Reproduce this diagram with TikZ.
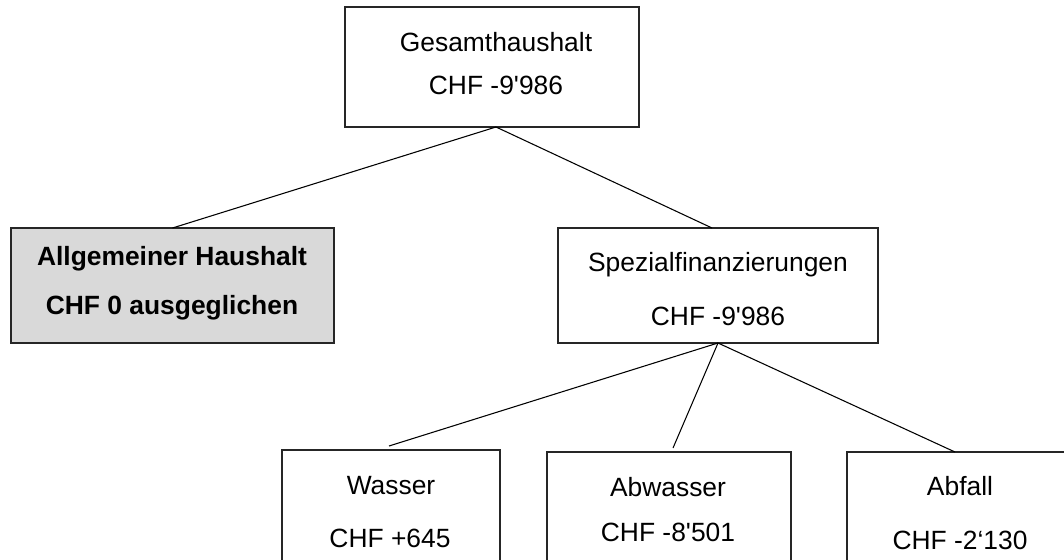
\documentclass[tikz,border=0pt]{standalone}
\usepackage{fontspec}
\setmainfont{Liberation Sans}
\begin{document}
\begin{tikzpicture}[x=0.75pt,y=-0.75pt,
  box/.style={draw=black!85, line width=1pt, inner sep=0pt, outer sep=0pt, anchor=north west},
  lbl/.style={anchor=base, inner sep=0pt, font=\fontsize{19.8}{24}\selectfont},
  blbl/.style={lbl, font=\fontsize{19.8}{24}\selectfont\bfseries},
  conn/.style={draw=black, line width=0.8pt}]
\useasboundingbox (0,0) rectangle (1064,560);
\clip (0,0) rectangle (1064,560);
% boxes
\node[box, minimum width=294*0.75pt, minimum height=120*0.75pt] (top) at (345,7) {};
\node[box, fill=black!15, minimum width=323*0.75pt, minimum height=115*0.75pt] (allg) at (11,228) {};
\node[box, minimum width=320*0.75pt, minimum height=115*0.75pt] (spez) at (558,228) {};
\node[box, minimum width=218*0.75pt, minimum height=160*0.75pt] (wasser) at (282,450) {};
\node[box, minimum width=244*0.75pt, minimum height=160*0.75pt] (abwasser) at (547,452) {};
\node[box, minimum width=220*0.75pt, minimum height=160*0.75pt] (abfall) at (847,452) {};
% labels
\node[lbl] (topA) at (496,52) {Gesamthaushalt};
\node[lbl] (topB) at (496,94) {CHF -9\textquotesingle 986};
\node[blbl] (allgA) at (172,265) {Allgemeiner Haushalt};
\node[blbl] (allgB) at (172,314) {CHF 0 ausgeglichen};
\node[lbl] (spezA) at (718,271) {Spezialfinanzierungen};
\node[lbl] (spezB) at (718,325) {CHF -9\textquotesingle 986};
\node[lbl] (wasserA) at (391,494) {Wasser};
\node[lbl] (wasserB) at (390,547) {CHF +645};
\node[lbl] (abwasserA) at (668,496) {Abwasser};
\node[lbl] (abwasserB) at (668,541) {CHF -8\textquotesingle 501};
\node[lbl] (abfallA) at (960,495) {Abfall};
\node[lbl] (abfallB) at (960,549) {CHF -2‘130};
% connectors
\draw[conn] ([xshift=3pt]top.south) -- (allg.north);
\draw[conn] ([xshift=3pt]top.south) -- ([xshift=-4.5pt]spez.north);
\draw[conn] (spez.south) -- ([xshift=-1.5pt,yshift=3pt]wasser.north);
\draw[conn] (spez.south) -- ([xshift=3pt,yshift=3pt]abwasser.north);
\draw[conn] (spez.south) -- ([xshift=-1.5pt]abfall.north);
\end{tikzpicture}
\end{document}
